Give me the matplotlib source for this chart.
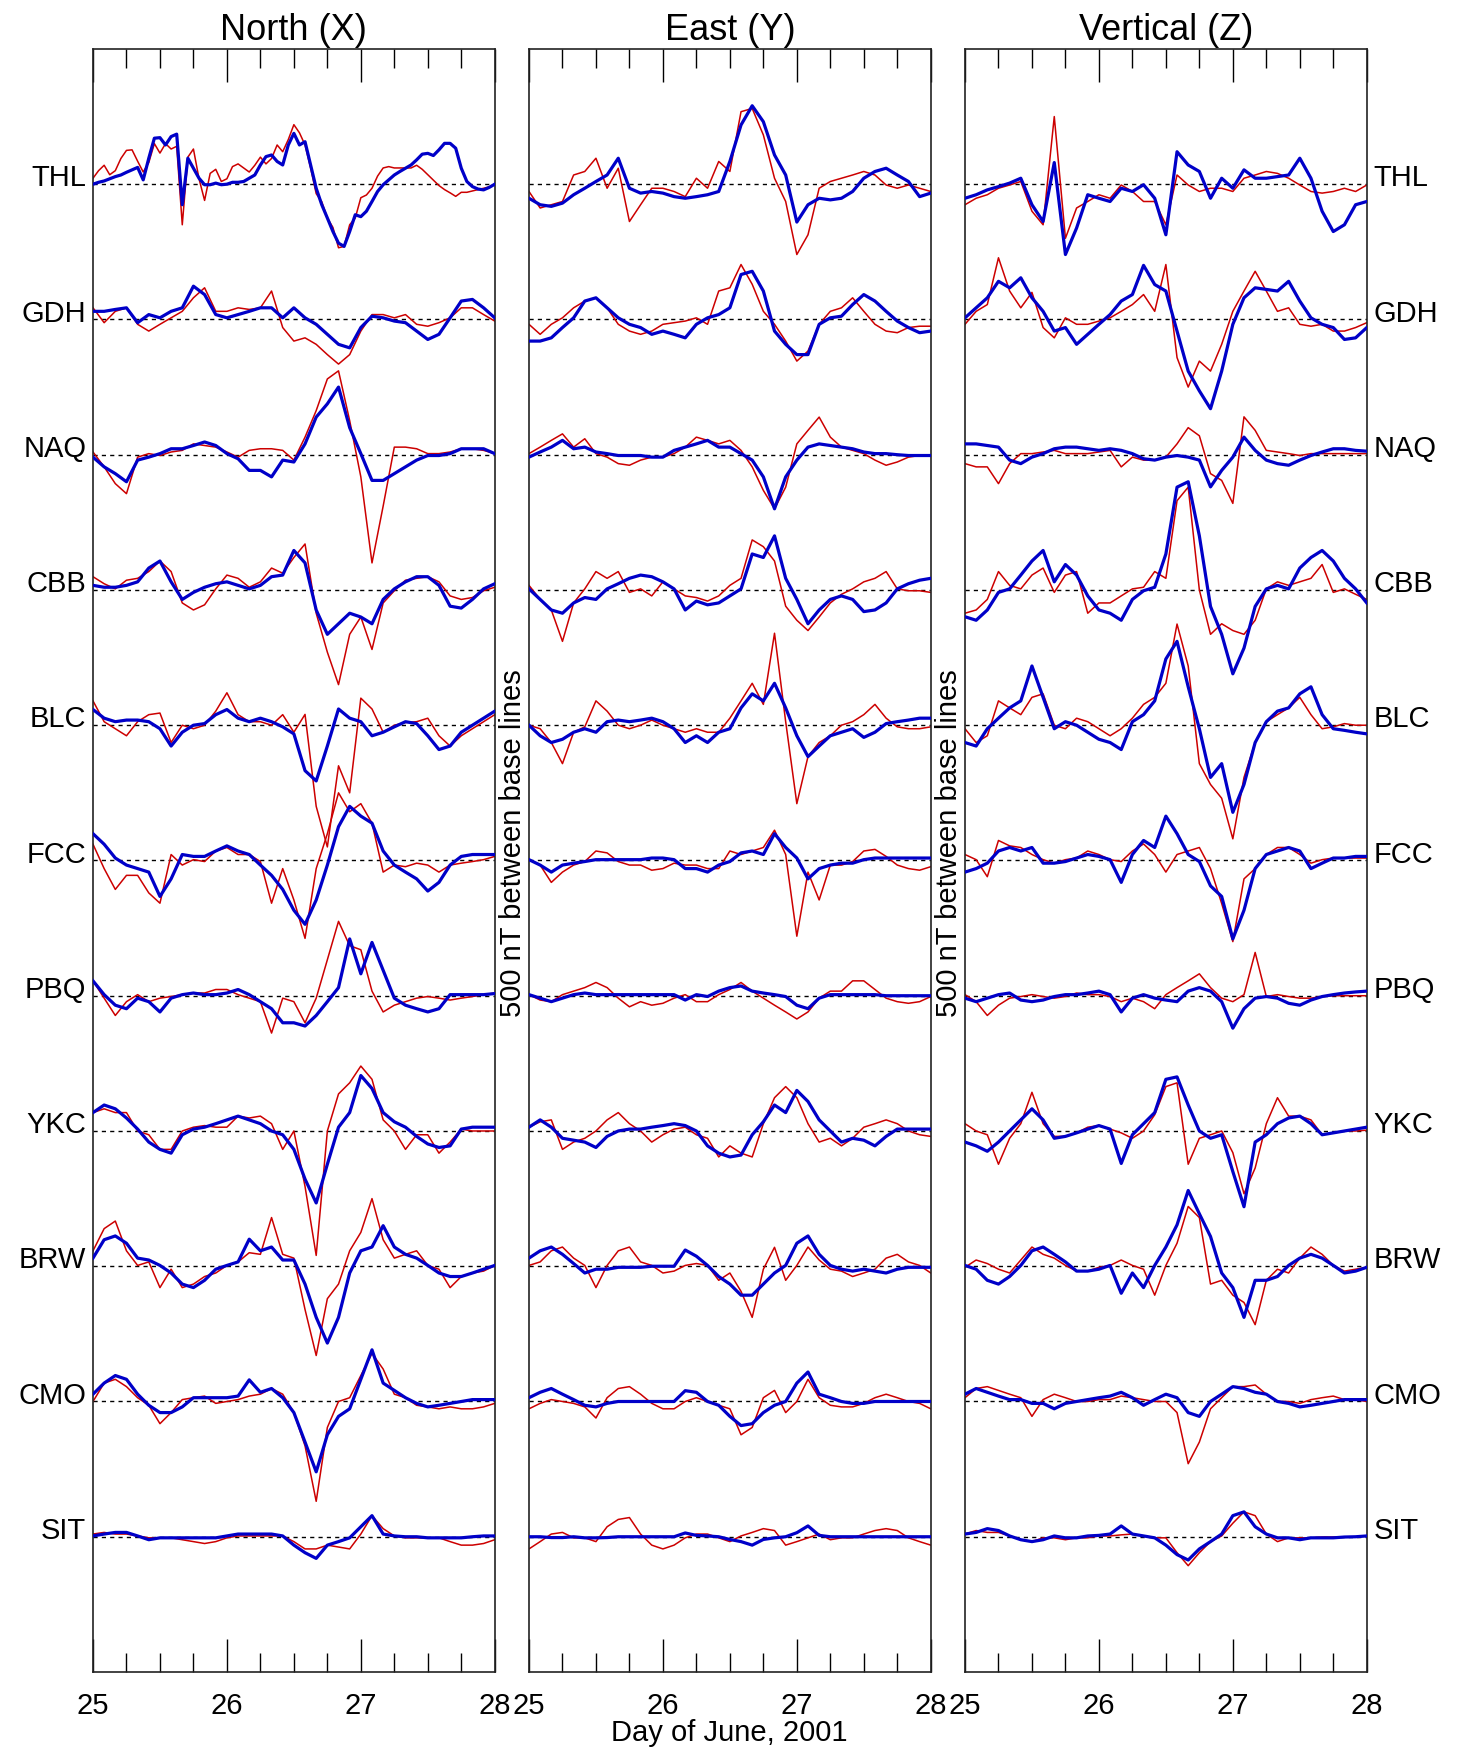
import matplotlib
matplotlib.use("Agg")
import matplotlib.pyplot as plt
from matplotlib import font_manager as fm
import numpy as np

FONT = "Liberation Sans"
for f in ["Liberation Sans Narrow", "Liberation Sans"]:
    try:
        fm.findfont(f, fallback_to_default=False)
        FONT = f
        break
    except Exception:
        pass
NARROW = FONT.endswith("Narrow")
plt.rcParams["font.family"] = [FONT, "DejaVu Sans"]
FS = 24 if NARROW else 21
FS_T = 29 if NARROW else 26

RED, BLUE = "#cc0000", "#0000c8"
SPACING = 500  # nT between base lines
stations = ["THL", "GDH", "NAQ", "CBB", "BLC", "FCC", "PBQ", "YKC", "BRW", "CMO", "SIT"]
day_ticks = [25, 26, 27, 28]

# values in nT relative to each base line, evenly sampled from 25.0 to 28.0 June
# ---- North (X)
x_thl_red = [22,50,70,35,50,95,125,127,85,45,80,150,115,150,130,140,-150,100,130,20,-60,40,55,10,20,65,75,60,45,70,
             100,75,95,145,120,165,220,190,145,60,-35,-65,-125,-160,-235,-230,-150,-125,-50,-40,-15,30,60,65,60,60,60,60,
             70,55,35,15,-5,-20,-32,-45,-30,-30,-25,-20,-15,-10,0]
x_thl_blue = [0,7,12,20,28,34,44,53,62,16,96,170,172,145,176,185,-76,96,59,22,-2,-2,4,-2,0,7,7,10,22,34,
              71,102,108,84,71,145,188,145,157,71,-15,-76,-125,-175,-218,-230,-175,-113,-120,-100,-64,-27,-2,16,34,47,59,71,
              90,111,114,106,127,151,151,133,59,10,-9,-18,-21,-12,0]
x_gdh_red = [43,-12,30,43,-18,-43,-18,6,30,80,117,30,30,43,37,43,105,-30,-80,-68,-92,-130,-165,-130,-43,18,18,6,18,-18,-25,-12,6,43,43,18,-6]
x_gdh_blue = [30,30,37,43,-12,18,6,30,43,123,92,18,6,18,30,43,43,6,43,6,-18,-55,-92,-105,-30,12,6,-6,-12,-43,-74,-55,6,68,74,43,6]
x_naq_red = [10,-45,-107,-144,-9,4,-3,10,16,40,34,28,10,-9,16,22,22,16,-20,65,163,280,310,126,-82,-400,-190,28,28,22,4,4,10,22,22,16,4]
x_naq_blue = [-9,-45,-70,-100,-20,-9,4,22,22,34,47,34,4,-15,-58,-58,-82,-20,-27,40,139,188,250,100,4,-95,-95,-70,-45,-20,-3,-3,4,22,22,22,4]
x_cbb_red = [49,23,4,36,43,68,107,68,-48,-74,-55,4,55,43,10,30,81,62,120,170,-86,-230,-350,-164,-100,-220,-48,-3,36,43,49,30,-22,-35,-28,-3,10]
x_cbb_blue = [17,10,10,17,30,81,107,30,-35,-9,10,23,30,17,4,17,49,55,146,100,-74,-164,-125,-86,-100,-125,-35,4,30,49,49,17,-60,-67,-35,4,23]
x_blc_red = [90,13,-13,-39,13,39,45,-64,0,-13,0,52,120,39,13,13,0,39,-26,40,-300,-450,-150,-250,100,60,-26,0,10,13,26,-39,-77,-39,-13,13,39]
x_blc_blue = [58,26,13,19,19,13,-13,-77,-26,0,6,39,58,26,13,26,13,-6,-32,-168,-206,-77,60,26,13,-39,-26,-6,13,6,-39,-90,-77,-26,0,26,52]
x_fcc_red = [60,-30,-107,-55,-55,-120,-158,22,-17,3,-4,35,48,22,22,-4,-158,-30,-146,-288,-30,99,250,180,210,138,-43,-17,-23,-10,-17,-43,-17,-10,-4,3,15]
x_fcc_blue = [99,60,9,-17,-30,-43,-133,-68,22,15,15,35,54,35,22,-17,-55,-107,-184,-236,-146,-17,125,200,164,138,35,-17,-43,-68,-113,-81,-17,15,22,22,22]
x_pbq_red = [55,-9,-73,-22,4,-22,-9,-3,4,10,10,23,23,4,-9,-22,-138,-9,-22,-100,-9,133,275,185,170,17,-60,-35,-22,-9,-3,-9,-16,-9,-3,4,10]
x_pbq_blue = [55,4,-35,-48,-9,-22,-60,-9,4,10,4,4,10,23,4,-22,-48,-100,-100,-112,-73,-22,30,210,81,197,94,-9,-35,-48,-60,-48,4,4,4,4,8]
x_ykc_red = [68,82,68,68,0,-14,-68,-68,0,14,20,14,14,55,48,55,27,-68,0,-205,-460,0,137,178,240,191,41,0,-68,-14,-14,-82,-41,7,0,0,0]
x_ykc_blue = [68,96,82,48,7,-41,-68,-82,-14,7,14,27,41,55,41,27,0,-14,-68,-178,-266,-123,14,68,205,157,68,34,14,-20,-48,-61,-55,7,14,14,14]
x_brw_red = [57,139,167,57,3,16,-79,-11,-79,-66,-38,-25,3,16,50,44,180,44,30,-160,-330,-120,-66,57,125,250,98,30,44,57,3,-11,-79,-38,-25,-18,3]
x_brw_blue = [30,98,112,85,30,23,3,-25,-66,-79,-52,-11,3,16,100,57,71,23,23,-66,-189,-284,-189,-25,57,71,150,71,44,30,3,-25,-38,-38,-25,-11,3]
x_cmo_red = [0,68,82,55,14,-14,-82,-41,7,14,20,-7,0,7,20,27,48,27,-41,-164,-369,-96,0,14,96,178,120,27,14,-14,-20,-27,-20,-27,-27,-20,-7]
x_cmo_blue = [27,68,96,82,27,-14,-41,-41,-20,14,14,14,14,20,80,34,48,14,-41,-150,-260,-123,-55,-27,82,191,68,41,14,-7,-20,-14,-7,0,7,7,7]
x_sit_red = [10,16,10,10,3,-4,-4,-4,-11,-18,-25,-18,-4,3,3,3,3,3,-18,-45,-45,-31,-38,-45,10,78,30,3,-4,-4,-4,-4,-18,-31,-31,-25,-11]
x_sit_blue = [3,10,16,16,3,-11,-4,-4,-4,-4,-4,-4,3,10,10,10,10,3,-31,-59,-80,-31,-18,-4,37,78,10,3,0,0,-4,-4,-4,-4,0,3,3]

# ---- East (Y)
y_thl_red = [-27,-88,-76,-64,34,47,96,-15,59,-138,-76,-15,-15,-27,-46,22,-15,84,47,268,280,182,22,-64,-260,-187,-15,10,22,34,47,34,-3,-15,-3,-15,-27]
y_thl_blue = [-52,-76,-82,-70,-39,-15,10,34,96,-15,-33,-27,-33,-46,-52,-46,-39,-27,84,219,290,231,108,34,-140,-76,-52,-58,-52,-27,22,47,59,34,10,-46,-33]
y_gdh_red = [-18,-55,-18,6,43,68,80,43,-18,-43,-55,-43,-18,-12,-6,6,-18,105,117,203,130,30,-18,-80,-154,-117,-18,30,43,80,30,-18,-43,-49,-30,-25,-25]
y_gdh_blue = [-80,-80,-68,-30,6,68,80,43,6,-18,-30,-55,-43,-55,-68,-18,6,18,43,166,178,105,-43,-92,-130,-130,-18,6,12,55,92,68,30,-6,-30,-49,-43]
y_naq_red = [4,28,53,77,28,59,4,-9,-33,-39,-20,-9,-9,4,28,65,53,40,53,16,-45,-132,-200,-120,40,90,139,65,28,16,4,-20,-39,-27,-9,-3,-3]
y_naq_blue = [-9,10,28,53,22,28,10,4,-3,-3,-3,-9,-9,16,28,40,53,28,28,4,-20,-82,-200,-82,-20,28,40,34,28,22,10,4,4,0,-3,-3,-3]
y_cbb_red = [17,-35,-74,-190,-48,4,68,43,68,-9,4,-22,30,4,-22,-28,-41,-22,17,43,185,160,107,-60,-112,-150,-100,-48,-16,4,30,43,68,4,-3,-3,-9]
y_cbb_blue = [4,-35,-74,-86,-48,-28,-35,4,23,43,55,49,30,4,-74,-41,-55,-48,-22,4,133,120,200,43,-35,-125,-74,-35,-22,-35,-80,-74,-48,4,23,36,43]
y_blc_red = [0,-13,-64,-142,-26,-6,90,52,0,-13,0,19,0,-13,-26,-13,-26,-26,26,90,155,77,340,13,-290,-116,-64,-39,0,13,39,77,26,-6,-13,-13,-6]
y_blc_blue = [0,-39,-64,-52,-26,-13,-26,13,19,13,19,26,13,-13,-64,-39,-64,-26,-13,64,116,90,155,64,-39,-116,-77,-39,-26,-13,-45,-26,6,13,19,26,26]
y_fcc_red = [3,-17,-81,-43,-17,-4,35,28,-4,-17,-17,-36,-30,-10,-17,-17,-30,-30,35,22,35,48,112,22,-280,-43,-146,-17,-17,-4,35,41,15,-17,-30,-36,-23]
y_fcc_blue = [3,-17,-43,-17,-10,-4,3,3,3,3,3,9,9,3,-30,-30,-43,-17,-4,28,35,22,99,48,9,-68,-30,-17,-10,-10,3,9,9,9,9,9,9]
y_pbq_red = [4,-16,-22,4,17,30,49,30,-9,-41,-22,-35,-28,-9,4,-22,-22,4,23,49,17,-9,-35,-60,-86,-60,-9,17,17,55,55,23,-9,-22,-28,-22,-3]
y_pbq_blue = [4,-9,-22,-9,4,10,4,4,4,4,4,4,4,4,-16,4,-3,17,30,36,17,10,4,-3,-35,-48,-9,4,4,4,4,4,0,0,0,0,0]
y_ykc_red = [14,34,41,-68,-41,-27,0,41,68,27,0,-41,-14,7,14,-14,-27,-96,-55,-82,-96,27,123,164,123,27,-41,-27,-55,-27,14,27,41,27,0,-14,-20]
y_ykc_blue = [14,41,14,-27,-34,-41,-61,-20,0,7,7,14,20,27,20,0,-55,-82,-96,-89,-14,34,96,68,150,109,41,0,-41,-27,-34,-55,-20,7,7,7,7]
y_brw_red = [3,16,57,71,30,3,-79,3,57,71,16,3,-25,-18,3,10,3,-52,-25,-93,-189,-11,70,-52,3,71,23,-11,-18,-38,-25,-11,30,44,16,3,-25]
y_brw_blue = [30,57,71,44,10,-25,-11,-11,-4,-4,-4,0,0,0,60,37,3,-38,-66,-107,-107,-66,-25,3,85,112,44,3,-11,-18,-11,-18,-25,-11,-4,-4,-4]
y_cmo_red = [-27,-7,7,0,-7,-20,-61,14,48,55,27,-7,-27,-27,0,14,0,-14,-27,-123,-96,14,41,-41,0,82,14,-14,-20,-20,-7,14,27,14,0,-7,-27]
y_cmo_blue = [14,34,48,27,7,-14,-20,-7,0,0,0,0,0,0,40,34,0,-14,-55,-89,-82,-41,-14,0,68,109,27,14,0,-7,-7,0,0,0,0,0,0]
y_sit_red = [-45,-18,10,16,-4,-4,-18,37,64,71,10,-31,-45,-31,-4,10,10,-4,-18,3,16,30,23,-31,-18,-4,10,-11,-4,-4,10,23,30,23,-4,-18,-31]
y_sit_blue = [0,0,-3,-3,0,-4,-4,-3,0,0,0,0,0,0,14,5,3,0,-10,-18,-31,-10,-4,0,15,40,5,0,0,0,0,0,0,0,0,0,0]

# ---- Vertical (Z)
z_thl_red = [-76,-52,-39,-15,-3,10,-100,-150,250,-200,-88,-64,-39,-52,-3,-27,-64,-64,-150,34,-3,-27,-15,-15,-27,22,34,47,40,22,-3,-27,-33,-27,-15,-27,-3]
z_thl_blue = [-52,-39,-21,-9,4,22,-76,-138,80,-260,-162,-39,-52,-64,-15,-27,-2,-52,-187,120,71,47,-52,22,-15,53,22,22,28,34,96,22,-100,-175,-150,-76,-64]
z_gdh_red = [-18,30,55,228,105,43,100,-30,-68,6,-18,-18,-6,6,30,55,92,30,203,-141,-250,-154,-191,-92,30,105,178,105,30,43,-18,-25,-18,-43,-43,-30,-12]
z_gdh_blue = [6,43,80,141,117,154,80,30,-43,-30,-92,-55,-18,18,68,92,200,129,105,-43,-191,-264,-330,-191,-18,80,117,111,105,141,68,6,-18,-30,-74,-68,-30]
z_naq_red = [-33,-45,-45,-107,-33,4,4,10,16,4,4,4,10,16,-45,-9,-20,-20,-9,40,100,70,-70,-95,-180,140,90,16,10,4,-3,4,4,4,4,4,4]
z_naq_blue = [40,40,34,28,-20,-33,-9,4,22,28,28,22,16,22,16,4,-15,-20,-9,-3,-9,-20,-119,-58,-9,65,16,-20,-33,-39,-20,-3,10,22,22,16,13]
z_cbb_red = [-86,-74,-35,68,17,4,55,81,-9,55,68,-86,-48,-48,-22,4,10,68,43,330,380,0,-164,-125,-150,-164,-112,4,30,17,30,43,94,-9,4,-16,-35]
z_cbb_blue = [-99,-112,-74,-9,4,55,107,146,30,94,55,-22,-74,-86,-112,-35,-3,10,133,380,400,200,-61,-164,-310,-215,-61,4,17,4,81,120,146,107,43,4,-48]
z_blc_red = [-13,-64,-39,90,64,39,103,116,0,-13,26,13,-13,-39,-13,26,77,103,155,374,219,-142,-219,-270,-420,-193,-64,13,39,64,103,39,-13,-6,6,0,0]
z_blc_blue = [-64,-77,-13,26,64,90,219,103,-13,13,0,-26,-52,-64,-90,13,39,90,245,310,142,-13,-193,-142,-322,-219,-64,13,52,64,116,142,39,-13,-19,-26,-32]
z_fcc_red = [22,3,-60,74,54,48,22,3,-10,3,9,35,22,3,-4,35,61,22,-43,22,35,48,-30,-159,-300,-68,-30,22,48,48,22,-10,3,9,9,9,9]
z_fcc_blue = [-43,-30,-10,35,48,35,48,-10,-10,-4,9,22,15,3,-81,22,74,48,164,99,22,-4,-94,-133,-290,-184,-30,22,35,48,35,-30,-10,9,9,15,15]
z_pbq_red = [4,-22,-73,-35,-9,-3,4,-3,-9,-3,10,4,4,-3,-22,-9,-22,-48,4,30,55,81,30,-9,-22,4,160,-3,4,-3,-9,-9,-3,0,0,0,0]
z_pbq_blue = [-9,-22,-9,4,10,-16,-22,-16,-3,4,4,10,17,4,-60,-9,4,-9,-16,-22,17,30,17,-22,-120,-48,-9,-3,-9,-28,-35,-16,-3,4,10,14,17]
z_ykc_red = [27,0,-14,-123,-27,27,143,27,-20,-20,-7,14,20,7,-7,-27,0,60,164,178,-123,-27,-14,0,-80,-232,-137,27,123,55,55,41,-14,-7,0,0,3]
z_ykc_blue = [-41,-55,-75,-41,0,41,82,41,-27,-20,-7,7,20,7,-120,-14,27,68,191,200,96,0,-27,-14,-150,-280,-41,-14,27,48,55,27,-14,-7,0,7,14]
z_brw_red = [-4,23,10,-11,-25,23,71,44,30,3,-18,-18,-4,3,23,3,-11,-107,3,85,221,180,-66,-52,-107,-134,-216,-52,-11,-25,30,71,44,3,-18,-11,-4]
z_brw_blue = [3,-11,-52,-66,-38,3,57,71,44,16,-18,-18,-11,3,-100,-25,-79,3,71,153,280,194,110,-25,-79,-189,-52,-52,-38,3,30,44,30,3,-25,-18,-4]
z_cmo_red = [14,48,55,41,27,14,-55,7,27,14,0,0,7,7,20,14,7,0,0,-41,-230,-150,-27,14,55,55,61,27,0,0,-7,7,14,20,7,7,0]
z_cmo_blue = [27,48,34,20,7,7,-7,-7,-27,-7,0,7,14,20,34,14,-14,7,27,14,-41,-55,0,27,55,48,34,27,0,-7,-20,-14,-7,0,7,7,7]
z_sit_red = [10,23,16,16,3,-11,-18,-4,-4,-11,-4,-4,3,3,7,10,3,-4,-4,-59,-107,-59,-18,3,50,92,78,10,-18,-4,-4,-4,-1,-1,-1,0,3]
z_sit_blue = [10,16,30,23,3,-11,-18,-11,3,-4,-4,3,5,10,40,10,3,-4,-31,-66,-86,-45,-18,10,78,92,37,10,-4,-4,-11,-4,-4,-4,-1,0,3]

X_RED = [x_thl_red, x_gdh_red, x_naq_red, x_cbb_red, x_blc_red, x_fcc_red, x_pbq_red, x_ykc_red, x_brw_red, x_cmo_red, x_sit_red]
X_BLUE = [x_thl_blue, x_gdh_blue, x_naq_blue, x_cbb_blue, x_blc_blue, x_fcc_blue, x_pbq_blue, x_ykc_blue, x_brw_blue, x_cmo_blue, x_sit_blue]
Y_RED = [y_thl_red, y_gdh_red, y_naq_red, y_cbb_red, y_blc_red, y_fcc_red, y_pbq_red, y_ykc_red, y_brw_red, y_cmo_red, y_sit_red]
Y_BLUE = [y_thl_blue, y_gdh_blue, y_naq_blue, y_cbb_blue, y_blc_blue, y_fcc_blue, y_pbq_blue, y_ykc_blue, y_brw_blue, y_cmo_blue, y_sit_blue]
Z_RED = [z_thl_red, z_gdh_red, z_naq_red, z_cbb_red, z_blc_red, z_fcc_red, z_pbq_red, z_ykc_red, z_brw_red, z_cmo_red, z_sit_red]
Z_BLUE = [z_thl_blue, z_gdh_blue, z_naq_blue, z_cbb_blue, z_blc_blue, z_fcc_blue, z_pbq_blue, z_ykc_blue, z_brw_blue, z_cmo_blue, z_sit_blue]

panels = [("North (X)", X_RED, X_BLUE), ("East (Y)", Y_RED, Y_BLUE), ("Vertical (Z)", Z_RED, Z_BLUE)]
lefts = [0.0633, 0.3601, 0.6569]

fig = plt.figure(figsize=(14.69, 17.49), dpi=100)
for i, (title, reds, blues) in enumerate(panels):
    ax = fig.add_axes([lefts[i], 0.04345, 0.2735, 0.928])
    for j, (r, b) in enumerate(zip(reds, blues)):
        base = -SPACING * j
        ax.axhline(base, color="black", lw=1.0, ls=(0, (3, 3)), zorder=1)
        ax.plot(np.linspace(25, 28, len(r)), np.asarray(r) + base, color=RED, lw=1.1, zorder=2)
        ax.plot(np.linspace(25, 28, len(b)), np.asarray(b) + base, color=BLUE, lw=2.3, zorder=3)
        if i == 0:
            ax.text(-0.017, base + 25, stations[j], transform=ax.get_yaxis_transform(),
                    ha="right", va="center", fontsize=FS)
        if i == 2:
            ax.text(1.017, base + 25, stations[j], transform=ax.get_yaxis_transform(),
                    ha="left", va="center", fontsize=FS)
    ax.set_xlim(25, 28)
    ax.set_ylim(-5500, 500)
    ax.set_xticks(day_ticks)
    ax.set_xticklabels([str(d) for d in day_ticks])
    ax.set_xticks(np.arange(25, 28.01, 0.25), minor=True)
    ax.tick_params(axis="x", which="major", direction="in", length=24, width=1.0,
                   top=True, labelsize=FS, pad=14)
    ax.tick_params(axis="x", which="minor", direction="in", length=13.5, width=1.0, top=True)
    ax.set_yticks([])
    for s in ax.spines.values():
        s.set_linewidth(1.2)
        s.set_color("#222222")
    ax.set_title(title, fontsize=FS_T, pad=7)

for xf in (0.349, 0.646):
    fig.text(xf, 0.518, "500 nT between base lines", rotation=90, ha="center", va="center", fontsize=FS)
fig.text(0.4965, 0.0046, "Day of June, 2001", ha="center", va="baseline", fontsize=FS)

fig.savefig("out.png", dpi=100)
